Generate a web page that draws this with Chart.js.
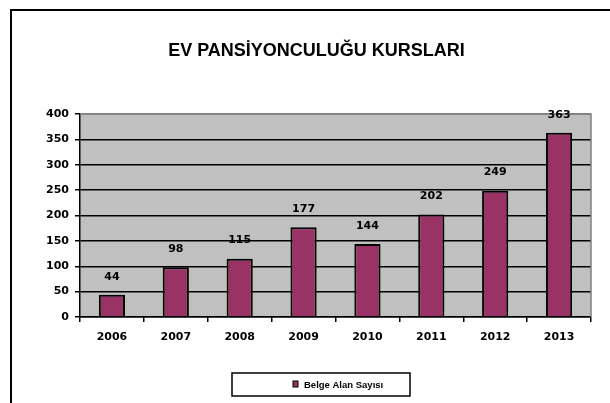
<!DOCTYPE html>
<html>
<head>
<meta charset="utf-8">
<script src="https://cdn.jsdelivr.net/npm/chart.js@4.4.1/dist/chart.umd.min.js"></script>
<style>
  html, body { margin: 0; padding: 0; background: #fff; }
  #wrap { width: 610px; height: 403px; }
</style>
</head>
<body>
<div id="wrap"><canvas id="grafik" width="610" height="403"></canvas></div>
<script>
// veriler
const yillar = ['2006', '2007', '2008', '2009', '2010', '2011', '2012', '2013'];
const belgeAlan = [44, 98, 115, 177, 144, 202, 249, 363];
const baslik = 'EV PANSİYONCULUĞU KURSLARI';
const seriAdi = 'Belge Alan Sayısı';

// gri zemin, çerçeve, başlık, lejant ve değer etiketleri
const ciziciler = {
  id: 'ciziciler',
  beforeDraw(chart) {
    const ctx = chart.ctx;
    const a = chart.chartArea;
    ctx.save();
    ctx.fillStyle = '#C0C0C0';
    ctx.fillRect(a.left, a.top, a.right - a.left, a.bottom - a.top);
    ctx.restore();
  },
  beforeDatasetsDraw(chart) {
    const ctx = chart.ctx;
    const a = chart.chartArea;
    ctx.save();
    ctx.strokeStyle = '#808080';
    ctx.lineWidth = 1.5;
    ctx.beginPath();
    ctx.moveTo(a.left, a.top);
    ctx.lineTo(a.right, a.top);
    ctx.lineTo(a.right, a.bottom);
    ctx.stroke();
    ctx.restore();
  },
  afterDatasetsDraw(chart) {
    const ctx = chart.ctx;
    const meta = chart.getDatasetMeta(0);
    ctx.save();
    ctx.fillStyle = '#000';
    ctx.font = 'bold 11px "DejaVu Sans"';
    ctx.textAlign = 'center';
    ctx.textBaseline = 'middle';
    meta.data.forEach(function(bar, i) {
      ctx.fillText(String(belgeAlan[i]), bar.x, bar.y - 18);
    });
    ctx.restore();
  },
  afterDraw(chart) {
    const ctx = chart.ctx;
    ctx.save();
    // dış çerçeve
    ctx.strokeStyle = '#000';
    ctx.lineWidth = 2;
    ctx.strokeRect(11, 10, 700, 500);
    // başlık
    ctx.fillStyle = '#000';
    ctx.font = 'bold 18px "Liberation Sans"';
    ctx.textAlign = 'center';
    ctx.textBaseline = 'middle';
    ctx.fillText(baslik, 316.5, 51);
    // lejant
    ctx.lineWidth = 1.5;
    ctx.strokeRect(232, 373, 178, 23);
    ctx.fillStyle = '#993366';
    ctx.fillRect(293, 381, 5, 6);
    ctx.strokeStyle = '#000';
    ctx.lineWidth = 1;
    ctx.strokeRect(293, 381, 5, 6);
    ctx.fillStyle = '#000';
    ctx.font = 'bold 9.5px "Liberation Sans"';
    ctx.textAlign = 'left';
    ctx.fillText(seriAdi, 304, 385);
    ctx.restore();
  }
};

const ctx = document.getElementById('grafik').getContext('2d');
const grafik = new Chart(ctx, {
  type: 'bar',
  data: {
    labels: yillar,
    datasets: [{
      label: seriAdi,
      data: belgeAlan,
      backgroundColor: '#993366',
      borderColor: '#000',
      borderWidth: 2,
      barPercentage: 0.41,
      categoryPercentage: 1
    }]
  },
  options: {
    responsive: false,
    animation: false,
    layout: { padding: { left: 0, right: 19, top: 114, bottom: 0 } },
    plugins: {
      legend: { display: false },
      title: { display: false },
      tooltip: { enabled: false }
    },
    scales: {
      x: {
        afterFit(s) { s.height = 86; },
        grid: {
          offset: true,
          drawOnChartArea: false,
          drawTicks: true,
          tickLength: 5,
          color: '#000',
          lineWidth: 1.5
        },
        border: { color: '#000', width: 1.5 },
        ticks: {
          color: '#000',
          padding: 9,
          font: { family: 'DejaVu Sans', size: 11, weight: 'bold' }
        }
      },
      y: {
        min: 0,
        max: 400,
        afterFit(s) { s.width = 80; },
        grid: {
          color: function(c) { return c.tick && c.tick.value === 400 ? '#808080' : '#000'; },
          tickColor: '#000',
          lineWidth: 1.5,
          tickLength: 5
        },
        border: { color: '#000', width: 1.5 },
        ticks: {
          stepSize: 50,
          color: '#000',
          padding: 6,
          font: { family: 'DejaVu Sans', size: 11, weight: 'bold' }
        }
      }
    }
  },
  plugins: [ciziciler]
});
</script>
</body>
</html>
